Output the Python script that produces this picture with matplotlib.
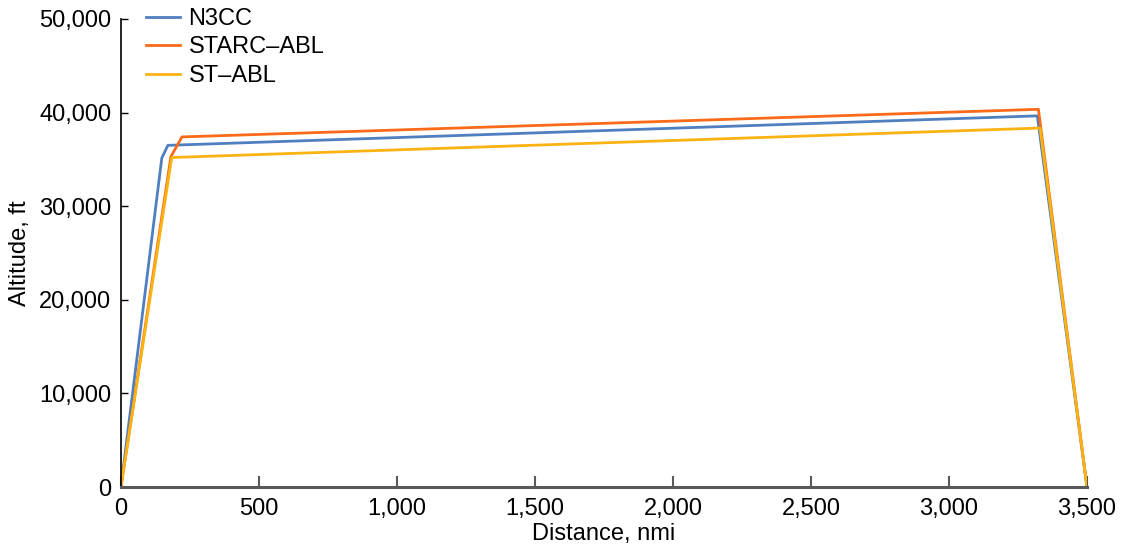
import matplotlib.pyplot as plt

plt.rcParams.update({
    'font.family': ['Liberation Sans', 'DejaVu Sans'],
    'font.size': 17,
})

# mission profiles: distance (nmi) vs altitude (ft)
n3cc_dist = [0, 148, 170, 3320, 3500]
n3cc_alt = [0, 35150, 36500, 39650, 0]

starc_dist = [0, 181, 221, 3324, 3500]
starc_alt = [0, 35300, 37400, 40350, 0]

st_dist = [0, 184, 3330, 3500]
st_alt = [0, 35200, 38350, 0]

x_ticks = [0, 500, 1000, 1500, 2000, 2500, 3000, 3500]
y_ticks = [0, 10000, 20000, 30000, 40000, 50000]

fig = plt.figure(figsize=(11.22, 5.5), dpi=100)
ax = fig.add_axes([0.1078, 0.1145, 0.861, 0.851])

ax.plot(n3cc_dist, n3cc_alt, color='#4F7FC0', lw=2.0, label='N3CC')
ax.plot(starc_dist, starc_alt, color='#FA6A18', lw=2.0, label='STARC\u2013ABL')
ax.plot(st_dist, st_alt, color='#FBB313', lw=2.0, label='ST\u2013ABL')

ax.set_xlim(0, 3500)
ax.set_ylim(0, 50000)
ax.set_xticks(x_ticks)
ax.set_xticklabels([f"{v:,}" for v in x_ticks])
ax.set_yticks(y_ticks)
ax.set_yticklabels([f"{v:,}" for v in y_ticks])

ax.set_xlabel('Distance, nmi', labelpad=2)
ax.set_ylabel('Altitude, ft', labelpad=6)

for s in ['top', 'right']:
    ax.spines[s].set_visible(False)
ax.spines['left'].set_color('black')
ax.spines['left'].set_linewidth(1.2)
ax.spines['bottom'].set_color('#595959')
ax.spines['bottom'].set_linewidth(2.2)

ax.tick_params(axis='y', direction='in', length=5, width=1.0, pad=7)
ax.tick_params(axis='x', direction='in', length=8, width=1.5, color='#595959', pad=8)

ax.legend(loc='upper left', bbox_to_anchor=(0.128, 0.99), bbox_transform=fig.transFigure,
          frameon=False, handlelength=1.45, handletextpad=0.35, labelspacing=0.28,
          borderaxespad=0, borderpad=0.1)

fig.savefig('out.png', dpi=100)
